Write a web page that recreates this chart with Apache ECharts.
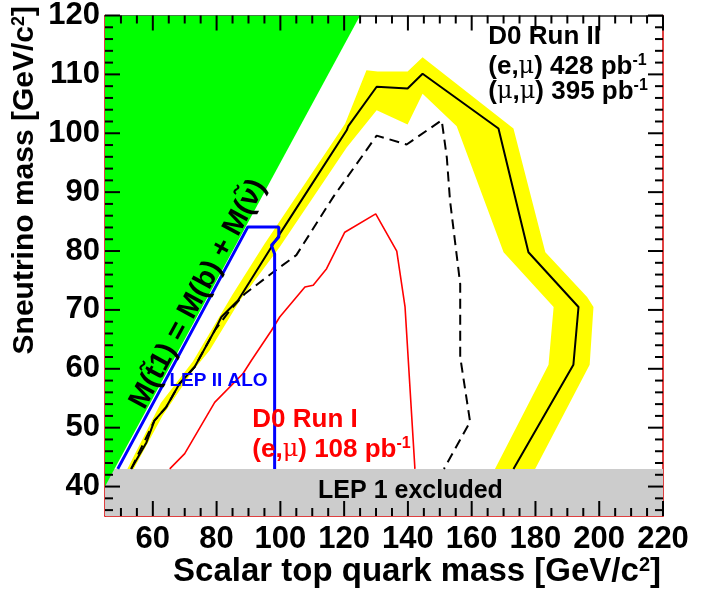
<!DOCTYPE html>
<html>
<head>
<meta charset="utf-8">
<script src="https://cdn.jsdelivr.net/npm/echarts@6/dist/echarts.min.js"></script>
<style>
html,body{margin:0;padding:0;background:#fff;}
#chart{width:704px;height:592px;}
</style>
</head>
<body>
<div id="chart"></div>
<script>
// ---- axis ranges and ticks ----
const xRange = [45, 220];
const yRange = [35, 120];
const xMajorTicks = [60, 80, 100, 120, 140, 160, 180, 200, 220];
const yMajorTicks = [40, 50, 60, 70, 80, 90, 100, 110, 120];
const xMinorTicks = [50, 55, 65, 70, 75, 85, 90, 95, 105, 110, 115, 125, 130, 135, 145, 150, 155,
  165, 170, 175, 185, 190, 195, 205, 210, 215];
const yMinorTicks = [36, 38, 42, 44, 46, 48, 52, 54, 56, 58, 62, 64, 66, 68, 72, 74, 76, 78,
  82, 84, 86, 88, 92, 94, 96, 98, 102, 104, 106, 108, 112, 114, 116, 118];

// ---- regions ----
const lep1Limit = 43;                       // LEP 1 excluded below this sneutrino mass
const kinematicRegion = [[45, 40], [45, 120], [125, 120]];   // M(t) < M(b) + M(nu)

// ---- D0 Run II observed limit (solid black) ----
const runIIObserved = [
  [53.2, 43], [58, 47.5], [60.5, 51.2], [64.2, 53.5], [68.4, 57.5], [73.1, 60.3],
  [79.4, 66.5], [81.5, 68.8], [86.7, 71.6], [97.2, 80.7], [106.6, 88.6],
  [120.8, 100.5], [121.3, 101.2], [130.2, 107.9], [139.9, 107.6], [144.6, 110.1],
  [168.4, 100.8], [177.8, 79.8], [193.5, 70.5], [191.9, 60.7], [173.1, 43]
];
// ---- uncertainty band (yellow): outer edge then inner edge ----
const bandOuter = [
  [52, 43], [62.5, 54.2], [72.5, 61.2], [85, 72.6], [95, 81.2], [120.3, 101.6],
  [127, 110.7], [130.5, 110.5], [139.9, 110.5], [144.6, 112.9], [173.1, 100.8],
  [183.1, 79.8], [196.2, 72.2], [198.2, 70.5], [197, 60.7], [179.9, 43]
];
const bandInner = [
  [167.3, 43], [184.1, 60.7], [185.7, 70.5], [170, 79.8], [155.3, 101.2],
  [144.6, 106.7], [139.9, 101.5], [130.2, 103.9], [120.8, 97.6], [99.8, 80.7],
  [87.3, 71.6], [77.8, 63.1], [72.6, 59.7], [63, 52], [54, 43]
];
// ---- D0 Run II expected limit (dashed black) ----
const runIIExpected = [
  [53.2, 43], [60.5, 51.2], [64.2, 53.5], [68.4, 57.5], [73.1, 60.3], [79.4, 66.5],
  [84.1, 69.9], [88.8, 72.7], [97.7, 76.4], [105, 79.3], [116.6, 89.2],
  [130.2, 99.6], [139.6, 98.1], [150.6, 102.2], [152.2, 95.9], [153.2, 88.6],
  [156.4, 74.4], [156.4, 62], [159.5, 51], [151.3, 43]
];
// ---- D0 Run I limit (red) ----
const runILimit = [
  [65.3, 43], [70, 45.6], [79.4, 54.3], [88.3, 59.2], [90.9, 61.4], [97.2, 66.5],
  [99.8, 68.8], [107.7, 73.9], [110.3, 74.2], [114.5, 77], [120.2, 83.2],
  [129.9, 86.3], [136.5, 80], [139.1, 70.5], [142.2, 43]
];
// ---- LEP II ALO (blue) ----
const lepIIALO = [
  [49, 43], [89.8, 84.1], [99.5, 84.1], [99.5, 82.4], [97.2, 81], [98.2, 79.5], [98.2, 43]
];

const FONT = "'Liberation Sans', Arial, Helvetica, sans-serif";

const chart = echarts.init(document.getElementById('chart'), null, { renderer: 'canvas' });

function polygonSeries(points, fill, z) {
  return {
    type: 'custom', silent: true, clip: true, z: z,
    xAxisIndex: 0, yAxisIndex: 0,
    encode: { x: 0, y: 1 },
    data: points,
    renderItem: function (params, api) {
      if (params.dataIndex !== 0) return null;
      const pts = points.map(p => api.coord(p));
      return { type: 'polygon', shape: { points: pts }, style: { fill: fill } };
    }
  };
}
function lineSeries(points, color, width, dash, z) {
  return {
    type: 'line', silent: true, z: z, xAxisIndex: 0, yAxisIndex: 0,
    data: points, symbol: 'none', smooth: false, animation: false, connectNulls: false,
    lineStyle: { color: color, width: width, type: dash || 'solid' }
  };
}
function xAxisDef(pos, labels, lineColor) {
  return {
    type: 'value', min: xRange[0], max: xRange[1], position: pos,
    axisLine: { show: true, onZero: false, lineStyle: { color: lineColor, width: 1.5 } },
    axisTick: { show: false },
    axisLabel: labels ? { show: true, customValues: xMajorTicks, margin: 8, fontSize: 31, fontWeight: 'bold', fontFamily: FONT, color: '#000' } : { show: false },
    splitLine: { show: false }
  };
}
function yAxisDef(pos, labels, lineColor) {
  return {
    type: 'value', min: yRange[0], max: yRange[1], position: pos,
    axisLine: { show: true, onZero: false, lineStyle: { color: lineColor, width: 1.5 } },
    axisTick: { show: false },
    axisLabel: labels ? { show: true, customValues: yMajorTicks, margin: 5, fontSize: 31, fontWeight: 'bold', fontFamily: FONT, color: '#000' } : { show: false },
    splitLine: { show: false }
  };
}

const bandPolygon = bandOuter.concat(bandInner);
const lepBand = [[xRange[0], yRange[0]], [xRange[1], yRange[0]], [xRange[1], lep1Limit], [xRange[0], lep1Limit]];

const baseSeries = [
  polygonSeries(lepBand, '#cccccc', 1),
  polygonSeries(kinematicRegion, '#00ff00', 2),
  polygonSeries(bandPolygon, '#ffff00', 3),
  lineSeries(runILimit, '#ff0000', 1.6, null, 4),
  lineSeries(runIIExpected, '#000000', 2, [10, 6], 5),
  lineSeries(runIIObserved, '#000000', 2, null, 6),
  lineSeries(lepIIALO, '#0000ff', 3, null, 7)
];

chart.setOption({
  animation: false,
  backgroundColor: '#fff',
  grid: { left: 105, right: 41, top: 15, bottom: 76, containLabel: false },
  xAxis: [
    xAxisDef('bottom', true, '#d40000'),
    xAxisDef('top', false, '#222')
  ],
  yAxis: [
    yAxisDef('left', true, '#d40000'),
    yAxisDef('right', false, '#d40000')
  ],
  series: baseSeries
});

function px(p) { return chart.convertToPixel({ gridIndex: 0 }, p); }

// ---- frame ticks: each tick is its own short segment, lengths converted from pixels ----
const p0 = px([100, 50]), p1 = px([101, 51]);
const pxPerX = Math.abs(p1[0] - p0[0]);
const pxPerY = Math.abs(p1[1] - p0[1]);
const tickSegs = [];
function addX(v, lenPx) {
  const d = lenPx / pxPerY;
  tickSegs.push([[v, yRange[0]], [v, yRange[0] + d]]);
  tickSegs.push([[v, yRange[1]], [v, yRange[1] - d]]);
}
function addY(v, lenPx) {
  const d = lenPx / pxPerX;
  tickSegs.push([[xRange[0], v], [xRange[0] + d, v]]);
  tickSegs.push([[xRange[1], v], [xRange[1] - d, v]]);
}
xMinorTicks.forEach(v => addX(v, 8));
xMajorTicks.forEach(v => addX(v, 15));
yMinorTicks.forEach(v => addY(v, 8));
yMajorTicks.forEach(v => addY(v, 15));

chart.setOption({
  series: baseSeries.concat(tickSegs.map(seg =>
    Object.assign(lineSeries(seg, '#000000', 2, null, 20), { clip: false })
  ))
});

// ---- annotations (placed via data coordinates) ----
const sup = (size, color) => ({ fontSize: size, fontWeight: 'bold', fontFamily: FONT, fill: color, verticalAlign: 'top', lineHeight: size + 12 });
const mu = (size, color) => ({ fontSize: size, fontWeight: 'normal', fontFamily: "'DejaVu Serif', serif", fill: color });
function text(pos, str, size, color, align, opts) {
  opts = opts || {};
  const p = Array.isArray(pos) ? px(pos) : [pos.x, pos.y];
  return {
    type: 'text', x: p[0], y: p[1], rotation: opts.rotation || 0, z: 100,
    style: {
      text: str, fill: color,
      fontSize: size, fontWeight: opts.weight || 'bold', fontFamily: FONT,
      align: align, textAlign: align, verticalAlign: 'middle', textVerticalAlign: 'middle',
      rich: {
        sup: sup(Math.round(size * 0.6), color),
        mu: mu(size - 2, color)
      }
    }
  };
}

const ga = px([45, 40]), gb = px([125, 120]);
const angle = Math.atan2(ga[1] - gb[1], gb[0] - ga[0]);

chart.setOption({
  graphic: [
    text([165.2, 116.4], 'D0 Run II', 26, '#000', 'left'),
    text([165.2, 111.3], '(e,{mu|μ}) 428 pb{sup|-1}', 26, '#000', 'left'),
    text([165.2, 107.0], '({mu|μ},{mu|μ}) 395 pb{sup|-1}', 26, '#000', 'left'),
    text([91.2, 51.4], 'D0 Run I', 26, '#ff0000', 'left'),
    text([91.2, 46.3], '(e,{mu|μ}) 108 pb{sup|-1}', 26, '#ff0000', 'left'),
    text([65.2, 58.0], 'LEP II ALO', 19, '#0000ff', 'left'),
    text([140.8, 39.2], 'LEP 1 excluded', 25, '#000', 'center'),
    text([74.2, 72.7], 'M(t\u03031) = M(b) + M(\u03bd\u0303)', 29, '#000', 'center', { rotation: angle }),
    text({ x: 661, y: 572 }, 'Scalar top quark mass [GeV/c{sup|2}]', 33, '#000', 'right'),
    text({ x: 25, y: 6 }, 'Sneutrino mass [GeV/c{sup|2}]', 30, '#000', 'right', { rotation: Math.PI / 2 })
  ]
});
</script>
</body>
</html>
